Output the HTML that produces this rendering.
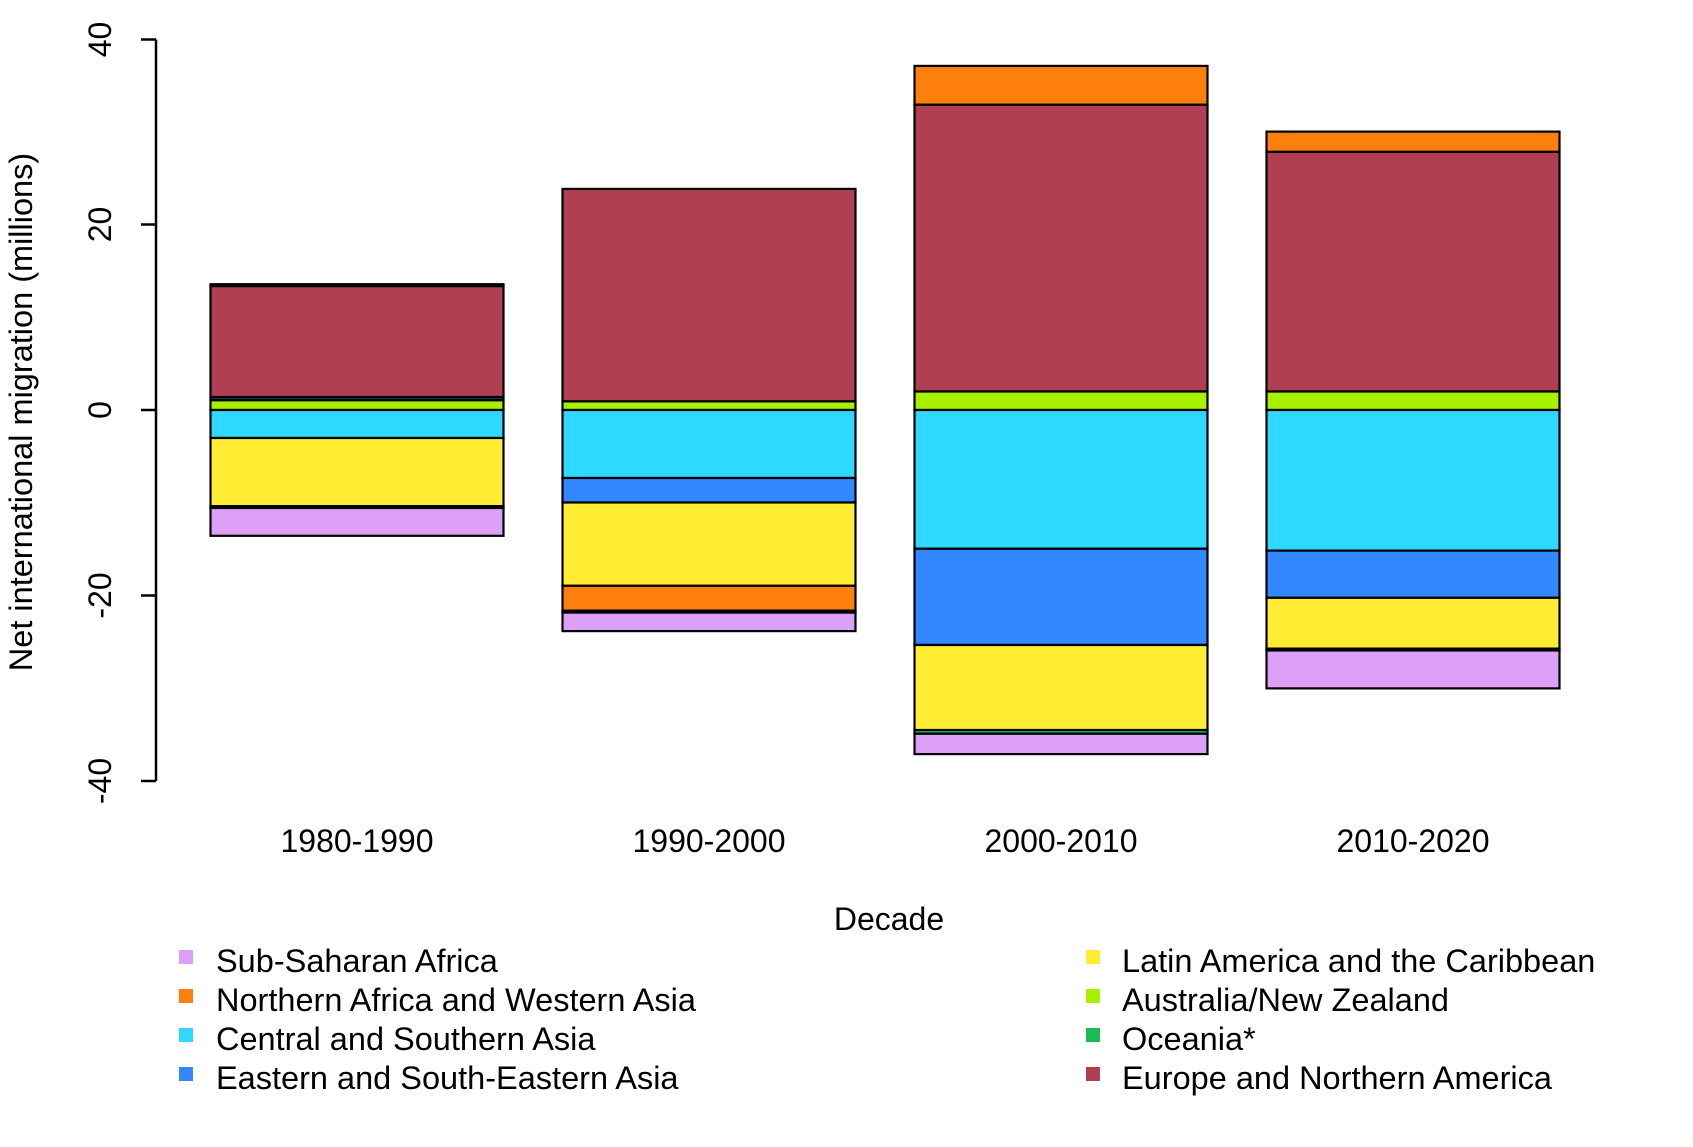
<!DOCTYPE html>
<html><head><meta charset="utf-8"><style>body{margin:0;background:#fff}svg{display:block}</style></head><body>
<svg width="1693" height="1147" viewBox="0 0 1693 1147" xmlns="http://www.w3.org/2000/svg" font-family="Liberation Sans, Arial, sans-serif">
<g stroke="#000" stroke-width="2.2">
<rect x="210.5" y="286.05" width="293" height="111" fill="#B03F51"/>
<rect x="210.5" y="284.2" width="293" height="1.85" fill="#000"/>
<rect x="210.5" y="397.05" width="293" height="3.2" fill="#1a3a6a"/>
<rect x="210.5" y="400.3" width="293" height="9.7" fill="#A6F000"/>
<rect x="210.5" y="410" width="293" height="28" fill="#2ED8FF"/>
<rect x="210.5" y="438" width="293" height="68.2" fill="#FFEC33"/>
<rect x="210.5" y="506.2" width="293" height="1.85" fill="#000"/>
<rect x="210.5" y="508" width="293" height="27.8" fill="#DDA0F8"/>
<rect x="562.5" y="188.9" width="293" height="212.5" fill="#B03F51"/>
<rect x="562.5" y="401.4" width="293" height="8.6" fill="#A6F000"/>
<rect x="562.5" y="410" width="293" height="68" fill="#2ED8FF"/>
<rect x="562.5" y="478" width="293" height="24.5" fill="#3388FF"/>
<rect x="562.5" y="502.5" width="293" height="83.3" fill="#FFEC33"/>
<rect x="562.5" y="585.8" width="293" height="25" fill="#FF7F0E"/>
<rect x="562.5" y="610.7" width="293" height="1.9" fill="#000"/>
<rect x="562.5" y="612.6" width="293" height="18.5" fill="#DDA0F8"/>
<rect x="914.5" y="65.9" width="293" height="38.85" fill="#FF7F0E"/>
<rect x="914.5" y="104.75" width="293" height="286.75" fill="#B03F51"/>
<rect x="914.5" y="391.5" width="293" height="18.5" fill="#A6F000"/>
<rect x="914.5" y="410" width="293" height="138.75" fill="#2ED8FF"/>
<rect x="914.5" y="548.75" width="293" height="96.2" fill="#3388FF"/>
<rect x="914.5" y="645" width="293" height="85.1" fill="#FFEC33"/>
<rect x="914.5" y="730" width="293" height="3.7" fill="#1DB954"/>
<rect x="914.5" y="733.75" width="293" height="20.35" fill="#DDA0F8"/>
<rect x="1266.5" y="131.6" width="293" height="20.3" fill="#FF7F0E"/>
<rect x="1266.5" y="151.9" width="293" height="239.6" fill="#B03F51"/>
<rect x="1266.5" y="391.5" width="293" height="18.5" fill="#A6F000"/>
<rect x="1266.5" y="410" width="293" height="140.6" fill="#2ED8FF"/>
<rect x="1266.5" y="550.6" width="293" height="47.2" fill="#3388FF"/>
<rect x="1266.5" y="597.8" width="293" height="50.9" fill="#FFEC33"/>
<rect x="1266.5" y="648.65" width="293" height="1.85" fill="#000"/>
<rect x="1266.5" y="650.5" width="293" height="37.9" fill="#DDA0F8"/>
</g>
<g stroke="#000" stroke-width="2.5" fill="none">
<line x1="156" y1="39.5" x2="156" y2="781"/>
<line x1="141" y1="39.5" x2="156" y2="39.5"/>
<line x1="141" y1="224.5" x2="156" y2="224.5"/>
<line x1="141" y1="410" x2="156" y2="410"/>
<line x1="141" y1="595.5" x2="156" y2="595.5"/>
<line x1="141" y1="781" x2="156" y2="781"/>
</g>
<g font-size="32" fill="#000" text-anchor="middle">
<text transform="translate(111,39.5) rotate(-90)">40</text>
<text transform="translate(111,224.5) rotate(-90)">20</text>
<text transform="translate(111,410) rotate(-90)">0</text>
<text transform="translate(111,595.5) rotate(-90)">-20</text>
<text transform="translate(111,781) rotate(-90)">-40</text>
<text transform="translate(32,412) rotate(-90)" font-size="32.5">Net international migration (millions)</text>
<text x="357" y="852">1980-1990</text>
<text x="709" y="852">1990-2000</text>
<text x="1061" y="852">2000-2010</text>
<text x="1413" y="852">2010-2020</text>
<text x="889" y="930">Decade</text>
</g>
<g font-size="32.5" fill="#000">
<rect x="179" y="950" width="14" height="14" fill="#DDA0F8"/><text x="216" y="972">Sub-Saharan Africa</text>
<rect x="179" y="989" width="14" height="14" fill="#FF7F0E"/><text x="216" y="1011">Northern Africa and Western Asia</text>
<rect x="179" y="1028" width="14" height="14" fill="#2ED8FF"/><text x="216" y="1050">Central and Southern Asia</text>
<rect x="179" y="1067" width="14" height="14" fill="#3388FF"/><text x="216" y="1089">Eastern and South-Eastern Asia</text>
<rect x="1086" y="950" width="14" height="14" fill="#FFEC33"/><text x="1122" y="972">Latin America and the Caribbean</text>
<rect x="1086" y="989" width="14" height="14" fill="#A6F000"/><text x="1122" y="1011">Australia/New Zealand</text>
<rect x="1086" y="1028" width="14" height="14" fill="#1DB954"/><text x="1122" y="1050">Oceania*</text>
<rect x="1086" y="1067" width="14" height="14" fill="#B03F51"/><text x="1122" y="1089">Europe and Northern America</text>
</g>
</svg>
</body></html>
